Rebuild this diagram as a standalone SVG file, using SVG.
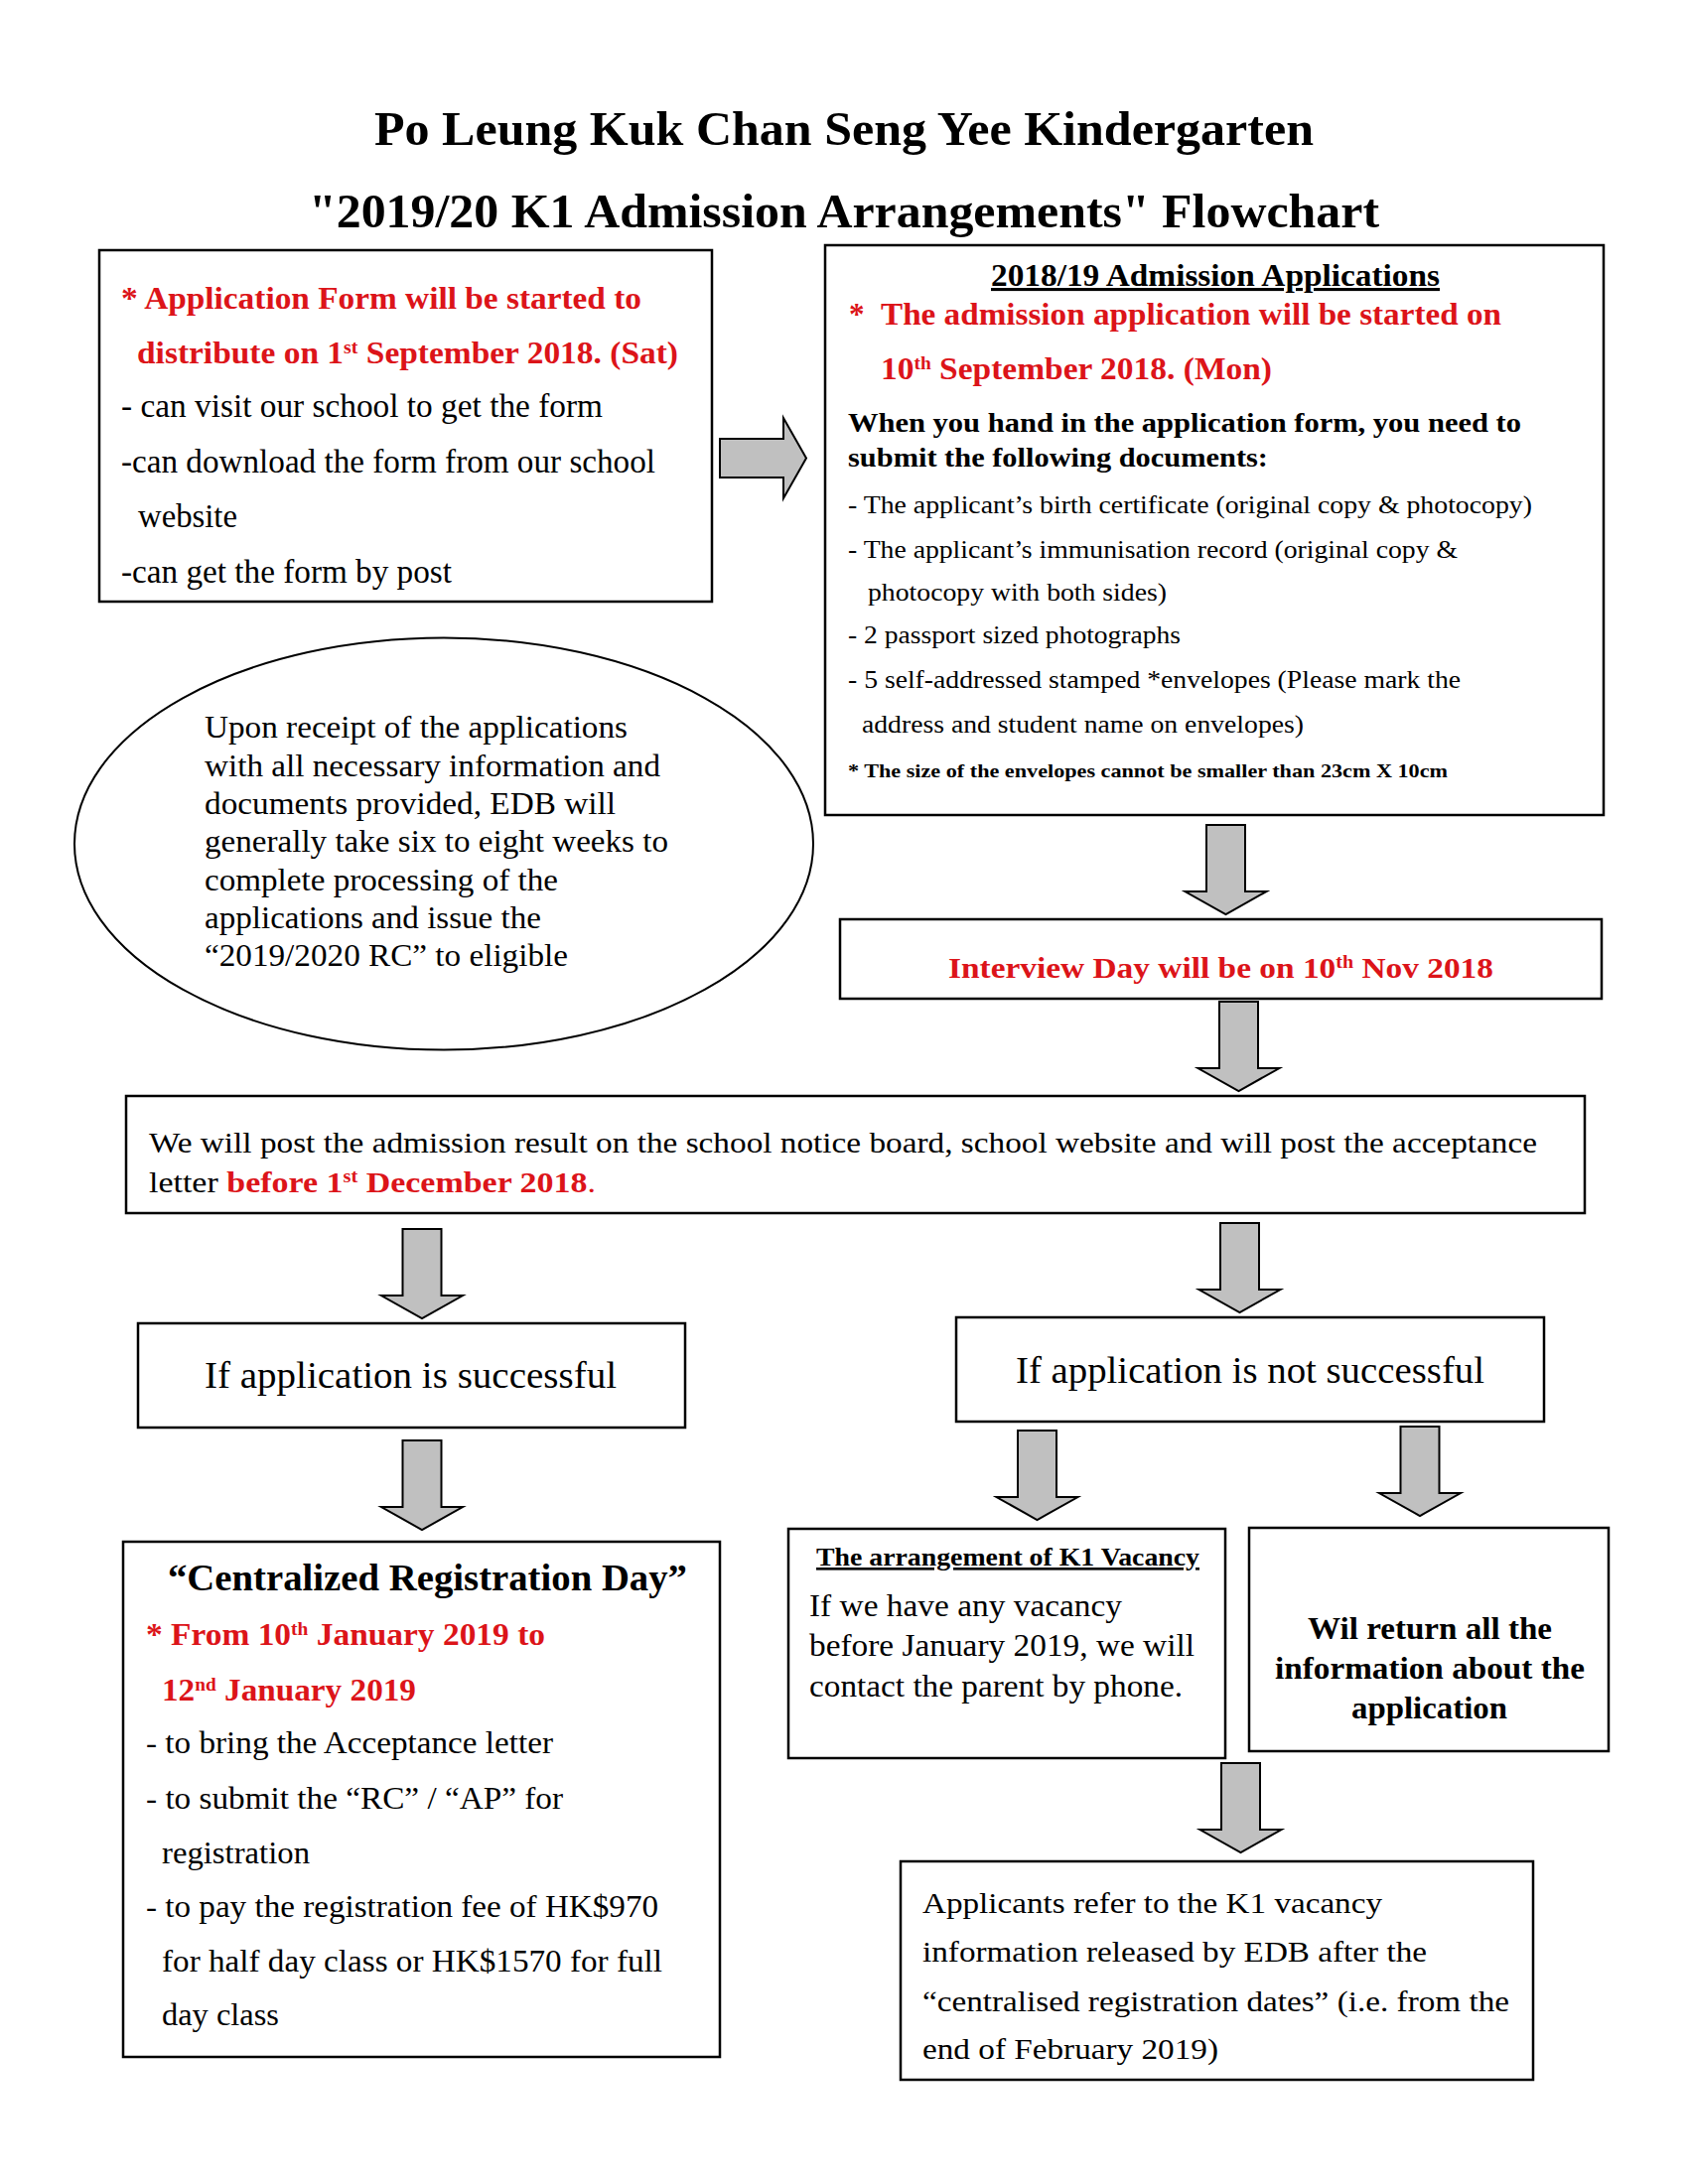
<svg xmlns="http://www.w3.org/2000/svg" xmlns:xlink="http://www.w3.org/1999/xlink" width="1700" height="2200" viewBox="0 0 1700 2200">
<style>
text{font-family:"Liberation Serif","Times New Roman",serif;fill:#000;}
.b{font-weight:bold;}
.r{fill:#dc1419;font-weight:bold;}
.u{text-decoration:underline;}
.box{fill:#fff;stroke:#000;stroke-width:2.5;}
.arr{fill:#c0c0c0;stroke:#000;stroke-width:2;stroke-linejoin:miter;}
</style>
<defs>
<path id="down" d="M-19.5,0 H19.5 V67 H41 L0,90 L-41,67 H-19.5 Z"/>
</defs>
<rect width="1700" height="2200" fill="#fff"/>
<g id="title">
<text class="b" x="377" y="146" font-size="48" textLength="946" lengthAdjust="spacingAndGlyphs">Po Leung Kuk Chan Seng Yee Kindergarten</text>
<text class="b" x="311" y="229" font-size="48" textLength="1078" lengthAdjust="spacingAndGlyphs">"2019/20 K1 Admission Arrangements" Flowchart</text>
</g>
<g id="connectors">
<path class="arr" d="M725,442 H789 V421 L812,461.5 L789,502 V481 H725 Z"/>
<use href="#down" class="arr" transform="translate(1234.5,831)"/>
<use href="#down" class="arr" transform="translate(1247.5,1009)"/>
<use href="#down" class="arr" transform="translate(425,1238)"/>
<use href="#down" class="arr" transform="translate(1248.5,1232)"/>
<use href="#down" class="arr" transform="translate(425,1451)"/>
<use href="#down" class="arr" transform="translate(1044.5,1441)"/>
<use href="#down" class="arr" transform="translate(1430,1437)"/>
<use href="#down" class="arr" transform="translate(1249.5,1776)"/>
</g>
<g id="distribution">
<rect class="box" x="100" y="252" width="617" height="354"/>
<text class="r" x="122" y="311" font-size="32" textLength="524" lengthAdjust="spacingAndGlyphs">* Application Form will be started to</text>
<text class="r" x="138" y="366" font-size="32" textLength="545" lengthAdjust="spacingAndGlyphs">distribute on 1<tspan baseline-shift="super" font-size="19">st</tspan> September 2018. (Sat)</text>
<text x="122" y="420" font-size="33" textLength="485" lengthAdjust="spacingAndGlyphs">- can visit our school to get the form</text>
<text x="122" y="476" font-size="33" textLength="538" lengthAdjust="spacingAndGlyphs">-can download the form from our school</text>
<text x="139" y="531" font-size="33" textLength="100" lengthAdjust="spacingAndGlyphs">website</text>
<text x="122" y="587" font-size="33" textLength="333" lengthAdjust="spacingAndGlyphs">-can get the form by post</text>
</g>
<g id="applications">
<rect class="box" x="831" y="247" width="784" height="574"/>
<text class="b u" x="998" y="288" font-size="31" textLength="452" lengthAdjust="spacingAndGlyphs">2018/19 Admission Applications</text>
<text class="r" x="855" y="327" font-size="31">*</text>
<text class="r" x="887" y="327" font-size="31" textLength="625" lengthAdjust="spacingAndGlyphs">The admission application will be started on</text>
<text class="r" x="887" y="382" font-size="31" textLength="394" lengthAdjust="spacingAndGlyphs">10<tspan baseline-shift="super" font-size="18">th</tspan> September 2018. (Mon)</text>
<text class="b" x="854" y="435" font-size="28" textLength="678" lengthAdjust="spacingAndGlyphs">When you hand in the application form, you need to</text>
<text class="b" x="854" y="470" font-size="28" textLength="423" lengthAdjust="spacingAndGlyphs">submit the following documents:</text>
<text x="854" y="517" font-size="26" textLength="689" lengthAdjust="spacingAndGlyphs">- The applicant’s birth certificate (original copy &amp; photocopy)</text>
<text x="854" y="562" font-size="26" textLength="614" lengthAdjust="spacingAndGlyphs">- The applicant’s immunisation record (original copy &amp;</text>
<text x="874" y="605" font-size="26" textLength="301" lengthAdjust="spacingAndGlyphs">photocopy with both sides)</text>
<text x="854" y="648" font-size="26" textLength="335" lengthAdjust="spacingAndGlyphs">- 2 passport sized photographs</text>
<text x="854" y="693" font-size="26" textLength="617" lengthAdjust="spacingAndGlyphs">- 5 self-addressed stamped *envelopes (Please mark the</text>
<text x="868" y="738" font-size="26" textLength="445" lengthAdjust="spacingAndGlyphs">address and student name on envelopes)</text>
<text class="b" x="854" y="783" font-size="19" textLength="604" lengthAdjust="spacingAndGlyphs">* The size of the envelopes cannot be smaller than 23cm X 10cm</text>
</g>
<g id="edb-processing">
<ellipse cx="447" cy="850" rx="372" ry="207.5" fill="#fff" stroke="#000" stroke-width="2"/>
<text x="206" y="743" font-size="31" textLength="426" lengthAdjust="spacingAndGlyphs">Upon receipt of the applications</text>
<text x="206" y="782" font-size="31" textLength="459" lengthAdjust="spacingAndGlyphs">with all necessary information and</text>
<text x="206" y="820" font-size="31" textLength="414" lengthAdjust="spacingAndGlyphs">documents provided, EDB will</text>
<text x="206" y="858" font-size="31" textLength="467" lengthAdjust="spacingAndGlyphs">generally take six to eight weeks to</text>
<text x="206" y="897" font-size="31" textLength="356" lengthAdjust="spacingAndGlyphs">complete processing of the</text>
<text x="206" y="935" font-size="31" textLength="339" lengthAdjust="spacingAndGlyphs">applications and issue the</text>
<text x="206" y="973" font-size="31" textLength="366" lengthAdjust="spacingAndGlyphs">“2019/2020 RC” to eligible</text>
</g>
<g id="interview">
<rect class="box" x="846" y="926" width="767" height="80"/>
<text class="r" x="955" y="985" font-size="30" textLength="549" lengthAdjust="spacingAndGlyphs">Interview Day will be on 10<tspan baseline-shift="super" font-size="18">th</tspan> Nov 2018</text>
</g>
<g id="results">
<rect class="box" x="127" y="1104" width="1469" height="118"/>
<text x="150" y="1161" font-size="30" textLength="1398" lengthAdjust="spacingAndGlyphs">We will post the admission result on the school notice board, school website and will post the acceptance</text>
<text x="150" y="1201" font-size="30" textLength="450" lengthAdjust="spacingAndGlyphs">letter <tspan class="r">before 1<tspan baseline-shift="super" font-size="18">st</tspan> December 2018</tspan><tspan fill="#dc1419">.</tspan></text>
</g>
<g id="successful">
<rect class="box" x="139" y="1333" width="551" height="105"/>
<text x="206" y="1398" font-size="38" textLength="415" lengthAdjust="spacingAndGlyphs">If application is successful</text>
</g>
<g id="not-successful">
<rect class="box" x="963" y="1327" width="592" height="105"/>
<text x="1023" y="1393" font-size="38" textLength="472" lengthAdjust="spacingAndGlyphs">If application is not successful</text>
</g>
<g id="registration-day">
<rect class="box" x="124" y="1553" width="601" height="519"/>
<text class="b" x="169" y="1602" font-size="37" textLength="523" lengthAdjust="spacingAndGlyphs">“Centralized Registration Day”</text>
<text class="r" x="147" y="1657" font-size="31" textLength="402" lengthAdjust="spacingAndGlyphs">* From 10<tspan baseline-shift="super" font-size="18">th</tspan> January 2019 to</text>
<text class="r" x="163" y="1713" font-size="31" textLength="256" lengthAdjust="spacingAndGlyphs">12<tspan baseline-shift="super" font-size="18">nd</tspan> January 2019</text>
<text x="147" y="1766" font-size="31" textLength="410" lengthAdjust="spacingAndGlyphs">- to bring the Acceptance letter</text>
<text x="147" y="1822" font-size="31" textLength="420" lengthAdjust="spacingAndGlyphs">- to submit the “RC” / “AP” for</text>
<text x="163" y="1877" font-size="31" textLength="149" lengthAdjust="spacingAndGlyphs">registration</text>
<text x="147" y="1931" font-size="31" textLength="516" lengthAdjust="spacingAndGlyphs">- to pay the registration fee of HK$970</text>
<text x="163" y="1986" font-size="31" textLength="504" lengthAdjust="spacingAndGlyphs">for half day class or HK$1570 for full</text>
<text x="163" y="2040" font-size="31" textLength="118" lengthAdjust="spacingAndGlyphs">day class</text>
</g>
<g id="k1-vacancy">
<rect class="box" x="794" y="1540" width="440" height="231"/>
<text class="b u" x="822" y="1577" font-size="26" textLength="386" lengthAdjust="spacingAndGlyphs">The arrangement of K1 Vacancy</text>
<text x="815" y="1628" font-size="31" textLength="315" lengthAdjust="spacingAndGlyphs">If we have any vacancy</text>
<text x="815" y="1668" font-size="31" textLength="388" lengthAdjust="spacingAndGlyphs">before January 2019, we will</text>
<text x="815" y="1709" font-size="31" textLength="376" lengthAdjust="spacingAndGlyphs">contact the parent by phone.</text>
</g>
<g id="return-info">
<rect class="box" x="1258" y="1539" width="362" height="225"/>
<text class="b" x="1317" y="1651" font-size="32" textLength="246" lengthAdjust="spacingAndGlyphs">Wil return all the</text>
<text class="b" x="1284" y="1691" font-size="32" textLength="312" lengthAdjust="spacingAndGlyphs">information about the</text>
<text class="b" x="1361" y="1731" font-size="32" textLength="157" lengthAdjust="spacingAndGlyphs">application</text>
</g>
<g id="edb-vacancy">
<rect class="box" x="907" y="1875" width="637" height="220"/>
<text x="929" y="1927" font-size="30" textLength="463" lengthAdjust="spacingAndGlyphs">Applicants refer to the K1 vacancy</text>
<text x="929" y="1976" font-size="30" textLength="508" lengthAdjust="spacingAndGlyphs">information released by EDB after the</text>
<text x="929" y="2026" font-size="30" textLength="591" lengthAdjust="spacingAndGlyphs">“centralised registration dates” (i.e. from the</text>
<text x="929" y="2074" font-size="30" textLength="298" lengthAdjust="spacingAndGlyphs">end of February 2019)</text>
</g>
</svg>
